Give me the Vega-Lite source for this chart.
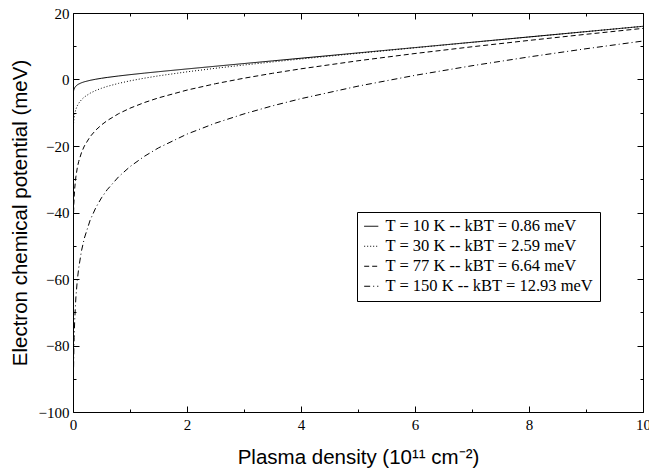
{
  "$schema": "https://vega.github.io/schema/vega-lite/v6.json",
  "width": 570,
  "height": 399,
  "autosize": {"type": "none"},
  "padding": {"left": 73, "top": 13, "right": 6, "bottom": 64},
  "background": "white",
  "config": {
    "view": {"stroke": null},
    "axis": {
      "grid": false,
      "domainColor": "black",
      "tickColor": "black",
      "labelColor": "black",
      "titleColor": "black",
      "labelFont": "Liberation Serif",
      "labelFontSize": 15,
      "titleFont": "Liberation Sans",
      "titleFontSize": 20.5,
      "titleFontWeight": "normal",
      "domainWidth": 1,
      "tickWidth": 1
    }
  },
  "data": {
    "values": [
      {"T": "10", "n": 0.01, "mu": -3.418}, {"T": "10", "n": 0.015, "mu": -3.066}, {"T": "10", "n": 0.02, "mu": -2.814}, {"T": "10", "n": 0.03, "mu": -2.458}, {"T": "10", "n": 0.05, "mu": -2.002}, {"T": "10", "n": 0.075, "mu": -1.633}, {"T": "10", "n": 0.1, "mu": -1.365}, {"T": "10", "n": 0.15, "mu": -0.975}, {"T": "10", "n": 0.2, "mu": -0.685}, {"T": "10", "n": 0.3, "mu": -0.25}, {"T": "10", "n": 0.4, "mu": 0.086}, {"T": "10", "n": 0.5, "mu": 0.369}, {"T": "10", "n": 0.6, "mu": 0.619}, {"T": "10", "n": 0.8, "mu": 1.06}, {"T": "10", "n": 1, "mu": 1.455}, {"T": "10", "n": 1.25, "mu": 1.912}, {"T": "10", "n": 1.5, "mu": 2.346}, {"T": "10", "n": 2, "mu": 3.179}, {"T": "10", "n": 2.5, "mu": 3.992}, {"T": "10", "n": 3, "mu": 4.797}, {"T": "10", "n": 3.5, "mu": 5.599}, {"T": "10", "n": 4, "mu": 6.4}, {"T": "10", "n": 5, "mu": 8.0}, {"T": "10", "n": 6, "mu": 9.6}, {"T": "10", "n": 7, "mu": 11.2}, {"T": "10", "n": 8, "mu": 12.8}, {"T": "10", "n": 9, "mu": 14.4}, {"T": "10", "n": 10, "mu": 16.0},
      {"T": "30", "n": 0.01, "mu": -13.17}, {"T": "30", "n": 0.015, "mu": -12.11}, {"T": "30", "n": 0.02, "mu": -11.36}, {"T": "30", "n": 0.03, "mu": -10.31}, {"T": "30", "n": 0.05, "mu": -8.967}, {"T": "30", "n": 0.075, "mu": -7.896}, {"T": "30", "n": 0.1, "mu": -7.131}, {"T": "30", "n": 0.15, "mu": -6.04}, {"T": "30", "n": 0.2, "mu": -5.254}, {"T": "30", "n": 0.3, "mu": -4.122}, {"T": "30", "n": 0.4, "mu": -3.294}, {"T": "30", "n": 0.5, "mu": -2.632}, {"T": "30", "n": 0.6, "mu": -2.076}, {"T": "30", "n": 0.8, "mu": -1.159}, {"T": "30", "n": 1, "mu": -0.407}, {"T": "30", "n": 1.25, "mu": 0.395}, {"T": "30", "n": 1.5, "mu": 1.095}, {"T": "30", "n": 2, "mu": 2.31}, {"T": "30", "n": 2.5, "mu": 3.378}, {"T": "30", "n": 3, "mu": 4.359}, {"T": "30", "n": 3.5, "mu": 5.283}, {"T": "30", "n": 4, "mu": 6.171}, {"T": "30", "n": 5, "mu": 7.879}, {"T": "30", "n": 6, "mu": 9.536}, {"T": "30", "n": 7, "mu": 11.166}, {"T": "30", "n": 8, "mu": 12.781}, {"T": "30", "n": 9, "mu": 14.39}, {"T": "30", "n": 10, "mu": 15.995},
      {"T": "77", "n": 0.01, "mu": -40.02}, {"T": "77", "n": 0.015, "mu": -37.32}, {"T": "77", "n": 0.02, "mu": -35.41}, {"T": "77", "n": 0.03, "mu": -32.71}, {"T": "77", "n": 0.05, "mu": -29.3}, {"T": "77", "n": 0.075, "mu": -26.59}, {"T": "77", "n": 0.1, "mu": -24.66}, {"T": "77", "n": 0.15, "mu": -21.93}, {"T": "77", "n": 0.2, "mu": -19.98}, {"T": "77", "n": 0.3, "mu": -17.2}, {"T": "77", "n": 0.4, "mu": -15.21}, {"T": "77", "n": 0.5, "mu": -13.65}, {"T": "77", "n": 0.6, "mu": -12.36}, {"T": "77", "n": 0.8, "mu": -10.28}, {"T": "77", "n": 1, "mu": -8.633}, {"T": "77", "n": 1.25, "mu": -6.943}, {"T": "77", "n": 1.5, "mu": -5.521}, {"T": "77", "n": 2, "mu": -3.183}, {"T": "77", "n": 2.5, "mu": -1.265}, {"T": "77", "n": 3, "mu": 0.389}, {"T": "77", "n": 3.5, "mu": 1.865}, {"T": "77", "n": 4, "mu": 3.211}, {"T": "77", "n": 5, "mu": 5.634}, {"T": "77", "n": 6, "mu": 7.816}, {"T": "77", "n": 7, "mu": 9.841}, {"T": "77", "n": 8, "mu": 11.756}, {"T": "77", "n": 9, "mu": 13.594}, {"T": "77", "n": 10, "mu": 15.375},
      {"T": "150", "n": 0.01, "mu": -86.56}, {"T": "150", "n": 0.015, "mu": -81.31}, {"T": "150", "n": 0.02, "mu": -77.59}, {"T": "150", "n": 0.03, "mu": -72.33}, {"T": "150", "n": 0.05, "mu": -65.71}, {"T": "150", "n": 0.075, "mu": -60.45}, {"T": "150", "n": 0.1, "mu": -56.71}, {"T": "150", "n": 0.15, "mu": -51.43}, {"T": "150", "n": 0.2, "mu": -47.67}, {"T": "150", "n": 0.3, "mu": -42.34}, {"T": "150", "n": 0.4, "mu": -38.55}, {"T": "150", "n": 0.5, "mu": -35.58}, {"T": "150", "n": 0.6, "mu": -33.14}, {"T": "150", "n": 0.8, "mu": -29.26}, {"T": "150", "n": 1, "mu": -26.21}, {"T": "150", "n": 1.25, "mu": -23.12}, {"T": "150", "n": 1.5, "mu": -20.56}, {"T": "150", "n": 2, "mu": -16.42}, {"T": "150", "n": 2.5, "mu": -13.12}, {"T": "150", "n": 3, "mu": -10.34}, {"T": "150", "n": 3.5, "mu": -7.92}, {"T": "150", "n": 4, "mu": -5.76}, {"T": "150", "n": 5, "mu": -2.0}, {"T": "150", "n": 6, "mu": 1.25}, {"T": "150", "n": 7, "mu": 4.14}, {"T": "150", "n": 8, "mu": 6.79}, {"T": "150", "n": 9, "mu": 9.25}, {"T": "150", "n": 10, "mu": 11.57}
    ]
  },
  "layer": [
    {
      "mark": {"type": "line", "color": "black", "strokeWidth": 1, "clip": true},
      "encoding": {
        "x": {"field": "n", "type": "quantitative", "scale": {"domain": [0, 10], "nice": false, "zero": false},
          "axis": {"orient": "bottom", "values": [0, 2, 4, 6, 8, 10], "tickSize": -6, "labelPadding": 11, "labelFlush": false, "labelOverlap": false, "title": "Plasma density (10¹¹ cm⁻²)", "titlePadding": 15}},
        "y": {"field": "mu", "type": "quantitative", "scale": {"domain": [-100, 20], "nice": false, "zero": false},
          "axis": {"orient": "left", "values": [-100, -80, -60, -40, -20, 0, 20], "tickSize": -6, "labelPadding": 10, "labelOverlap": false, "title": "Electron chemical potential (meV)", "titlePadding": 8}},
        "strokeDash": {"field": "T", "type": "nominal",
          "scale": {"domain": ["10", "30", "77", "150"], "range": [[1, 0], [1, 2], [5, 3], [6, 3, 1, 3]]},
          "legend": {
            "orient": "none", "legendX": 284, "legendY": 199, "title": null,
            "labelExpr": "datum.label == '10' ? 'T = 10 K -- kBT = 0.86 meV' : datum.label == '30' ? 'T = 30 K -- kBT = 2.59 meV' : datum.label == '77' ? 'T = 77 K -- kBT = 6.64 meV' : 'T = 150 K -- kBT = 12.93 meV'",
            "strokeColor": "black", "fillColor": "white", "padding": 6,
            "symbolType": "stroke", "symbolSize": 200, "symbolStrokeWidth": 1, "symbolStrokeColor": "black",
            "labelFont": "Liberation Serif", "labelFontSize": 16.5, "labelColor": "black", "labelLimit": 400,
            "rowPadding": 3, "labelOffset": 6
          }}
      }
    },
    {
      "mark": {"type": "line", "opacity": 0},
      "encoding": {
        "x": {"field": "n", "type": "quantitative", "scale": {"domain": [0, 10], "nice": false, "zero": false},
          "axis": {"orient": "top", "values": [0, 2, 4, 6, 8, 10], "tickSize": -6, "labels": false, "title": null}},
        "y": {"field": "mu", "type": "quantitative", "scale": {"domain": [-100, 20], "nice": false, "zero": false},
          "axis": {"orient": "right", "values": [-100, -80, -60, -40, -20, 0, 20], "tickSize": -6, "labels": false, "title": null}},
        "detail": {"field": "T"}
      }
    },
    {
      "mark": {"type": "line", "opacity": 0},
      "encoding": {
        "x": {"field": "n", "type": "quantitative", "scale": {"domain": [0, 10], "nice": false, "zero": false},
          "axis": {"orient": "bottom", "values": [1, 3, 5, 7, 9], "tickSize": -3, "labels": false, "domain": false, "title": null}},
        "y": {"field": "mu", "type": "quantitative", "scale": {"domain": [-100, 20], "nice": false, "zero": false},
          "axis": {"orient": "left", "values": [-90, -70, -50, -30, -10, 10], "tickSize": -3, "labels": false, "domain": false, "title": null}},
        "detail": {"field": "T"}
      }
    },
    {
      "mark": {"type": "line", "opacity": 0},
      "encoding": {
        "x": {"field": "n", "type": "quantitative", "scale": {"domain": [0, 10], "nice": false, "zero": false},
          "axis": {"orient": "top", "values": [1, 3, 5, 7, 9], "tickSize": -3, "labels": false, "domain": false, "title": null}},
        "y": {"field": "mu", "type": "quantitative", "scale": {"domain": [-100, 20], "nice": false, "zero": false},
          "axis": {"orient": "right", "values": [-90, -70, -50, -30, -10, 10], "tickSize": -3, "labels": false, "domain": false, "title": null}},
        "detail": {"field": "T"}
      }
    }
  ],
  "resolve": {"axis": {"x": "independent", "y": "independent"}}
}
